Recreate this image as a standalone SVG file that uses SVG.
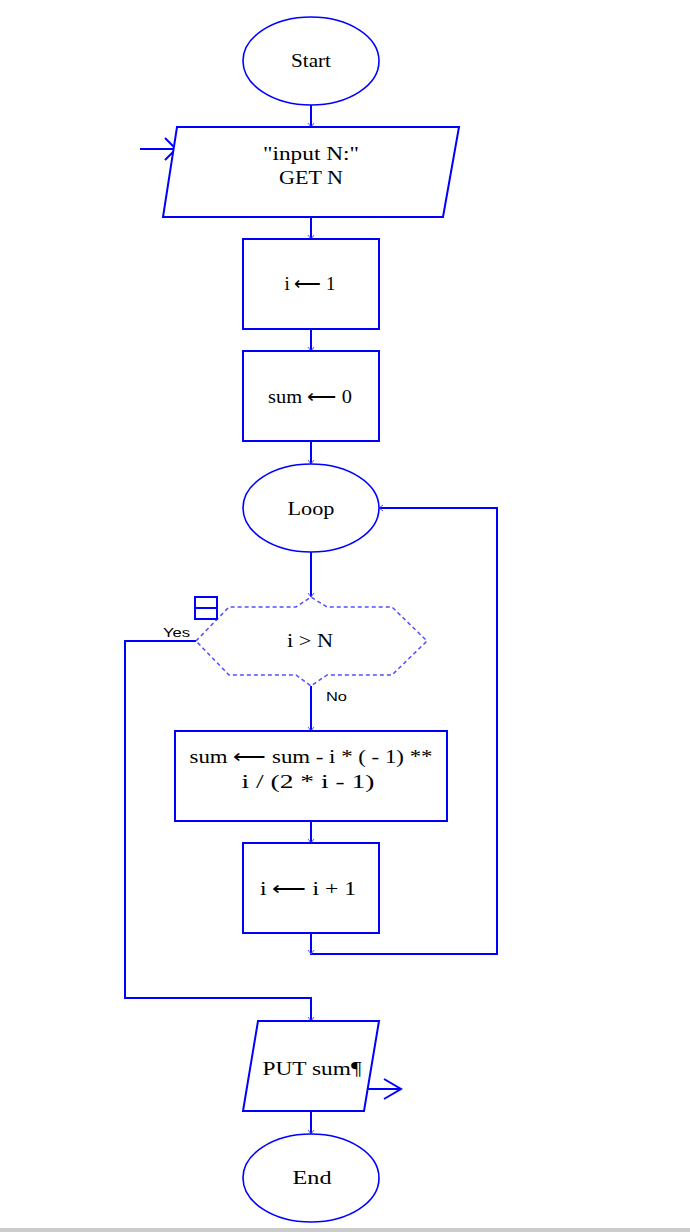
<svg xmlns="http://www.w3.org/2000/svg" width="690" height="1232" viewBox="0 0 690 1232">
<defs>
<style>
.s{fill:none;stroke:#0000ff;stroke-width:2}
.e{fill:#fff;stroke:#0000ff;stroke-width:1.6}
.b{fill:#fff;stroke:#0000ff;stroke-width:2}
.d{fill:#fff;stroke:#5050ff;stroke-width:1.5;stroke-dasharray:4 3}
.t{font-family:"Liberation Serif","Times New Roman",serif;font-size:18px;fill:#000;text-anchor:middle}
.l{font-family:"Liberation Sans",Arial,sans-serif;font-size:12px;fill:#000}
</style>
</defs>
<rect x="0" y="1228" width="690" height="4" fill="#cccccc"/>
<g id="connectors">
<path class="s" d="M311,105 V127"/>
<path class="s" d="M311,217 V239"/>
<path class="s" d="M311,329 V351"/>
<path class="s" d="M311,441 V464"/>
<path class="s" d="M311,552 V597"/>
<path class="s" d="M311,686 V731"/>
<path class="s" d="M311,821 V843"/>
<path class="s" d="M311,933 V954 H497 V508 H379"/>
<path class="s" d="M196,641 H125 V998 H311 V1021"/>
<path class="s" d="M311,1111 V1134"/>
<path class="s" d="M140,149 H175"/>
<path class="s" d="M165,138 L176,149 L165,160"/>
<path class="s" d="M367,1089 H401"/>
<path class="s" d="M384,1079 L401,1089 L384,1099"/>
<path d="M308,123 L311,127 L314,123 M308,235 L311,239 L314,235 M308,347 L311,351 L314,347 M308,460 L311,464 L314,460 M308,593 L311,597 L314,593 M308,727 L311,731 L314,727 M308,839 L311,843 L314,839 M308,950 L311,954 L314,950 M308,1017 L311,1021 L314,1017 M308,1130 L311,1134 L314,1130 M383,505 L379,508 L383,511" fill="none" stroke="#5050ff" stroke-width="1"/>
</g>
<g id="start">
<ellipse class="e" cx="311" cy="61" rx="68" ry="44"/>
<text class="t" x="311" y="67" textLength="40" lengthAdjust="spacingAndGlyphs">Start</text>
</g>
<g id="input">
<polygon class="b" points="177,127 459,127 443,217 163,217"/>
<text class="t" x="311" y="160" textLength="96" lengthAdjust="spacingAndGlyphs">"input N:"</text>
<text class="t" x="311" y="184" textLength="64" lengthAdjust="spacingAndGlyphs">GET N</text>
</g>
<g id="init_i">
<rect class="b" x="243" y="239" width="136" height="90"/>
<text class="t" x="310" y="290" textLength="51" lengthAdjust="spacingAndGlyphs">i ⟵ 1</text>
</g>
<g id="init_sum">
<rect class="b" x="243" y="351" width="136" height="90"/>
<text class="t" x="310" y="403" textLength="84" lengthAdjust="spacingAndGlyphs">sum ⟵ 0</text>
</g>
<g id="loop">
<ellipse class="e" cx="311" cy="508" rx="68" ry="44"/>
<text class="t" x="311" y="515" textLength="47" lengthAdjust="spacingAndGlyphs">Loop</text>
</g>
<g id="decision">
<polygon class="d" points="196,641 229,607 296,607 311,597 327,607 392,607 427,641 392,675 327,675 311,686 296,675 229,675"/>
<rect x="195" y="597" width="22" height="22" fill="#fff" stroke="#0000ff" stroke-width="2"/>
<path d="M195,608 H217" stroke="#0000ff" stroke-width="2"/>
<text class="t" x="310" y="647" textLength="46" lengthAdjust="spacingAndGlyphs">i &gt; N</text>
<text class="l" x="163" y="637" textLength="27" lengthAdjust="spacingAndGlyphs">Yes</text>
<text class="l" x="326" y="701" textLength="21" lengthAdjust="spacingAndGlyphs">No</text>
</g>
<g id="update_sum">
<rect class="b" x="175" y="731" width="272" height="90"/>
<text class="t" x="311" y="763" textLength="243" lengthAdjust="spacingAndGlyphs">sum ⟵ sum - i * ( - 1) **</text>
<text class="t" x="308" y="788" textLength="133" lengthAdjust="spacingAndGlyphs">i / (2 * i - 1)</text>
</g>
<g id="inc_i">
<rect class="b" x="243" y="843" width="136" height="90"/>
<text class="t" x="308" y="895" textLength="96" lengthAdjust="spacingAndGlyphs">i ⟵ i + 1</text>
</g>
<g id="output">
<polygon class="b" points="258,1021 379,1021 364,1111 243,1111"/>
<text class="t" x="312" y="1075" textLength="99" lengthAdjust="spacingAndGlyphs">PUT sum¶</text>
</g>
<g id="end">
<ellipse class="e" cx="311" cy="1178" rx="68" ry="44"/>
<text class="t" x="312" y="1184" textLength="39" lengthAdjust="spacingAndGlyphs">End</text>
</g>
</svg>
